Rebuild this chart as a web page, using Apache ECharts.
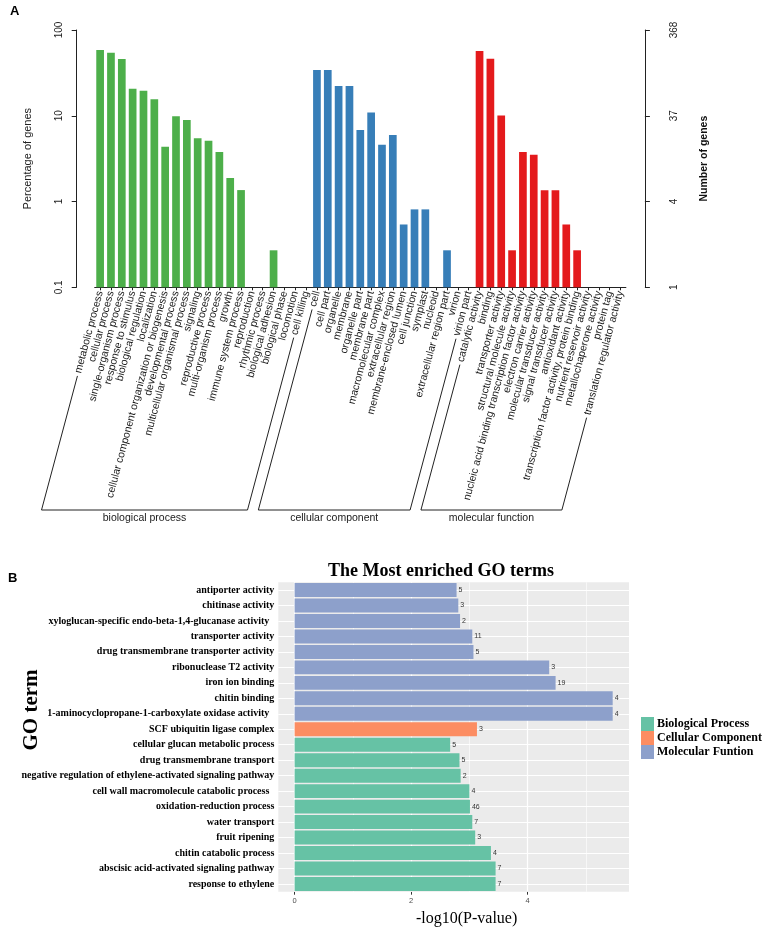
<!DOCTYPE html>
<html>
<head>
<meta charset="utf-8">
<script src="https://cdn.jsdelivr.net/npm/echarts@6/dist/echarts.min.js"></script>
<style>
  html, body { margin: 0; padding: 0; background: #fff; }
  #main { width: 767px; height: 932px; }
</style>
</head>
<body>
<div id="main"></div>
<script>
// ---- panel A: GO classification (percentage of genes, log scale) ----
var bpTerms = ['metabolic process', 'cellular process', 'single-organism process', 'response to stimulus',
  'biological regulation', 'localization', 'cellular component organization or biogenesis',
  'developmental process', 'multicellular organismal process', 'signaling', 'reproductive process',
  'multi-organism process', 'growth', 'immune system process', 'reproduction', 'rhythmic process',
  'biological adhesion', 'biological phase', 'locomotion', 'cell killing']
var bpPercent = [58.5, 54.4, 45.9, 20.7, 19.6, 15.6, 4.36, 9.87, 8.93, 5.47, 5.13, 3.78, 1.88, 1.36, 0, 0, 0.27, 0, 0, 0]

var ccTerms = ['cell', 'cell part', 'organelle', 'membrane', 'organelle part', 'membrane part',
  'macromolecular complex', 'extracellular region', 'membrane-enclosed lumen', 'cell junction',
  'symplast', 'nucleoid', 'extracellular region part', 'virion', 'virion part']
var ccPercent = [34.2, 34.2, 22.2, 22.2, 6.83, 10.9, 4.6, 5.97, 0.54, 0.81, 0.81, 0, 0.27, 0, 0]

var mfTerms = ['catalytic activity', 'binding', 'transporter activity', 'structural molecule activity',
  'nucleic acid binding transcription factor activity', 'electron carrier activity',
  'molecular transducer activity', 'signal transducer activity', 'antioxidant activity',
  'transcription factor activity, protein binding', 'nutrient reservoir activity',
  'metallochaperone activity', 'protein tag', 'translation regulator activity']
var mfPercent = [56.9, 46.3, 10.1, 0.27, 3.78, 3.52, 1.35, 1.35, 0.54, 0.27, 0, 0, 0, 0]

var pctTickValues = [0.1, 1, 10, 100]
var pctTickLabels = ['0.1', '1', '10', '100']
var geneTickLabels = ['1', '4', '37', '368']

// ---- panel B: most enriched GO terms ----
var goTerms = ['antiporter activity', 'chitinase activity',
  'xyloglucan-specific endo-beta-1,4-glucanase activity  ', 'transporter activity',
  'drug transmembrane transporter activity', 'ribonuclease T2 activity', 'iron ion binding',
  'chitin binding', '1-aminocyclopropane-1-carboxylate oxidase activity  ', 'SCF ubiquitin ligase complex',
  'cellular glucan metabolic process', 'drug transmembrane transport',
  'negative regulation of ethylene-activated signaling pathway', 'cell wall macromolecule catabolic process  ',
  'oxidation-reduction process', 'water transport', 'fruit ripening', 'chitin catabolic process',
  'abscisic acid-activated signaling pathway', 'response to ethylene']
var goClass = ['MF', 'MF', 'MF', 'MF', 'MF', 'MF', 'MF', 'MF', 'MF', 'CC',
  'BP', 'BP', 'BP', 'BP', 'BP', 'BP', 'BP', 'BP', 'BP', 'BP']
var goLogP = [2.78, 2.81, 2.84, 3.05, 3.07, 4.37, 4.48, 5.46, 5.46, 3.13,
  2.67, 2.83, 2.85, 3.00, 3.01, 3.05, 3.10, 3.37, 3.45, 3.45]
var goCount = [5, 3, 2, 11, 5, 3, 19, 4, 4, 3, 5, 5, 2, 4, 46, 7, 3, 4, 7, 7]
var xTicksB = [0, 2, 4]
var xMinorB = [1, 3, 5]

var sans = '"Liberation Sans", Arial, sans-serif'
var serif = '"Liberation Serif", "Times New Roman", serif'

var groupColors = { BP: '#4daf4a', CC: '#377eb8', MF: '#e41a1c' }
var classColors = { BP: '#66c2a5', CC: '#fc8d62', MF: '#8da0cb' }
var classNames = { BP: 'Biological Process', CC: 'Cellular Component', MF: 'Molecular Funtion' }

var groups = [
  { key: 'BP', name: 'biological process', terms: bpTerms, values: bpPercent },
  { key: 'CC', name: 'cellular component', terms: ccTerms, values: ccPercent },
  { key: 'MF', name: 'molecular function', terms: mfTerms, values: mfPercent }
]

var allTerms = []
var barDataA = []
groups.forEach(function(g) {
  g.start = allTerms.length
  g.terms.forEach(function(t, i) {
    allTerms.push(t)
    var v = g.values[i]
    barDataA.push({ value: v > 0 ? v : '-', itemStyle: { color: groupColors[g.key] }})
  })
})

function tickLabel(labels) {
  return function(v) {
    for (var i = 0; i < pctTickValues.length; i++) {
      if (Math.abs(Math.log10(pctTickValues[i]) - Math.log10(v)) < 1e-6) return labels[i]
    }
    return ''
  }
}

var labelRotate = 75
var labelMargin = 4
var labelFontA = 10.5

function classSeries(key) {
  return {
    name: classNames[key],
    type: 'bar',
    xAxisIndex: 1,
    yAxisIndex: 2,
    stack: 'go',
    barCategoryGap: '10%',
    itemStyle: { color: classColors[key] },
    label: {
      show: true,
      position: 'right',
      distance: 2,
      fontSize: 7,
      fontFamily: sans,
      color: '#333',
      formatter: function(p) { return goClass[p.dataIndex] === key ? String(goCount[p.dataIndex]) : '' }
    },
    data: goLogP.map(function(v, i) { return goClass[i] === key ? v : '-' })
  }
}

var gridLines = []
xTicksB.forEach(function(v) { gridLines.push({ xAxis: v, lineStyle: { color: '#fff', width: 1.2, type: 'solid' }}) })
xMinorB.forEach(function(v) { gridLines.push({ xAxis: v, lineStyle: { color: '#fff', width: 0.6, type: 'solid' }}) })
goTerms.forEach(function(t) { gridLines.push({ yAxis: t, lineStyle: { color: '#fff', width: 1.2, type: 'solid' }}) })

var chart = echarts.init(document.getElementById('main'))

chart.setOption({
  animation: false,
  backgroundColor: '#fff',
  title: [
    { text: 'A', left: 10, top: 5, padding: 0, textStyle: { fontFamily: sans, fontWeight: 'bold', fontSize: 13, color: '#000' }},
    { text: 'B', left: 8, top: 572, padding: 0, textStyle: { fontFamily: sans, fontWeight: 'bold', fontSize: 13, color: '#000' }},
    { text: 'The Most enriched GO terms', left: 328, top: 562, padding: 0,
      textStyle: { fontFamily: serif, fontWeight: 'bold', fontSize: 18, color: '#000' }}
  ],
  legend: {
    data: [classNames.BP, classNames.CC, classNames.MF],
    orient: 'vertical',
    left: 641,
    top: 717,
    padding: 0,
    itemWidth: 13,
    itemHeight: 14,
    itemGap: 0,
    icon: 'rect',
    selectedMode: false,
    textStyle: { fontFamily: serif, fontWeight: 'bold', fontSize: 12, color: '#000', padding: [0, 0, 0, -2] }
  },
  grid: [
    { left: 94.7, top: 30, width: 531.2, height: 257.3, outerBoundsMode: 'none' },
    { left: 278.3, top: 582.3, width: 350.7, height: 309.4, outerBoundsMode: 'none',
      show: true, backgroundColor: '#ebebeb', borderWidth: 0 }
  ],
  xAxis: [
    {
      gridIndex: 0,
      type: 'category',
      data: allTerms,
      axisLine: { show: true, lineStyle: { color: '#222', width: 1 }},
      axisTick: { show: true, alignWithLabel: true, length: 3, lineStyle: { color: '#222' }},
      axisLabel: { interval: 0, rotate: labelRotate, margin: labelMargin, fontFamily: sans, fontSize: labelFontA, color: '#1a1a1a' }
    },
    {
      gridIndex: 1,
      type: 'value',
      min: -0.28,
      max: 5.74,
      splitLine: { show: false },
      axisLine: { show: false },
      axisTick: { show: true, customValues: xTicksB, length: 3, lineStyle: { color: '#333' }},
      axisLabel: { customValues: xTicksB, color: '#4d4d4d', fontSize: 7.5, fontFamily: sans, margin: 5 },
      name: '-log10(P-value)',
      nameLocation: 'middle',
      nameGap: 19,
      nameMoveOverlap: false,
      nameTextStyle: { fontFamily: serif, fontSize: 16, color: '#000', padding: [0, 0, 0, 26] }
    }
  ],
  yAxis: [
    {
      gridIndex: 0,
      type: 'log',
      logBase: 10,
      min: 0.1,
      max: 100,
      startValue: 0.1,
      position: 'left',
      offset: 18,
      splitLine: { show: false },
      axisLine: { show: true, lineStyle: { color: '#222', width: 1 }},
      axisTick: { show: true, length: 5, lineStyle: { color: '#222' }},
      axisLabel: { rotate: 90, margin: 12, fontFamily: sans, fontSize: 10, color: '#222', formatter: tickLabel(pctTickLabels) },
      name: 'Percentage of genes',
      nameLocation: 'middle',
      nameRotate: 90,
      nameGap: 43,
      nameMoveOverlap: false,
      nameTextStyle: { fontFamily: sans, fontSize: 11, color: '#222' }
    },
    {
      gridIndex: 0,
      type: 'log',
      logBase: 10,
      min: 0.1,
      max: 100,
      position: 'right',
      offset: 19,
      splitLine: { show: false },
      axisLine: { show: true, lineStyle: { color: '#222', width: 1 }},
      axisTick: { show: true, length: 5, lineStyle: { color: '#222' }},
      axisLabel: { rotate: 90, margin: 24, fontFamily: sans, fontSize: 10, color: '#222', formatter: tickLabel(geneTickLabels) },
      name: 'Number of genes',
      nameLocation: 'middle',
      nameRotate: 90,
      nameGap: 54,
      nameMoveOverlap: false,
      nameTextStyle: { fontFamily: sans, fontSize: 10.5, fontWeight: 'bold', color: '#111' }
    },
    {
      gridIndex: 1,
      type: 'category',
      data: goTerms,
      inverse: true,
      axisLine: { show: false },
      axisTick: { show: true, alignWithLabel: true, length: 3, lineStyle: { color: '#333' }},
      axisLabel: { interval: 0, fontFamily: serif, fontWeight: 'bold', fontSize: 10, color: '#000', margin: 4 },
      name: 'GO term',
      nameLocation: 'middle',
      nameRotate: 90,
      nameGap: 236,
      nameMoveOverlap: false,
      nameTextStyle: { fontFamily: serif, fontWeight: 'bold', fontSize: 21, color: '#000', padding: [0, 0, 0, 54] }
    }
  ],
  series: [
    {
      name: 'GO classification',
      type: 'bar',
      xAxisIndex: 0,
      yAxisIndex: 0,
      barCategoryGap: '29%',
      data: barDataA
    },
    {
      name: 'grid lines',
      type: 'line',
      xAxisIndex: 1,
      yAxisIndex: 2,
      data: [],
      markLine: { silent: true, symbol: 'none', z: 1, label: { show: false }, data: gridLines }
    },
    classSeries('BP'),
    classSeries('CC'),
    classSeries('MF')
  ]
})

// brackets under the rotated category labels of panel A
function drawBrackets() {
  var ctx = document.createElement('canvas').getContext('2d')
  ctx.font = labelFontA + 'px ' + sans
  var ang = labelRotate * Math.PI / 180
  var axisY = chart.convertToPixel({ yAxisIndex: 0 }, 0.1) + labelMargin
  var baseY = 510
  var elements = []
  function foot(idx) {
    var x = chart.convertToPixel({ xAxisIndex: 0 }, idx)
    var w = ctx.measureText(allTerms[idx]).width + 3
    return [
      [x - w * Math.cos(ang), axisY + w * Math.sin(ang)],
      [x - (baseY - axisY) / Math.tan(ang), baseY]
    ]
  }
  groups.forEach(function(g) {
    var l = foot(g.start)
    var r = foot(g.start + g.terms.length - 1)
    elements.push({
      type: 'polyline',
      shape: { points: [l[0], l[1], r[1], r[0]] },
      style: { stroke: '#222', lineWidth: 1, fill: null }
    })
    elements.push({
      type: 'text',
      x: (l[1][0] + r[1][0]) / 2,
      y: baseY + 8,
      style: { text: g.name, font: '10.5px ' + sans, fill: '#1a1a1a', align: 'center', verticalAlign: 'middle' }
    })
  })
  chart.setOption({ graphic: elements })
}
drawBrackets()
</script>
</body>
</html>
